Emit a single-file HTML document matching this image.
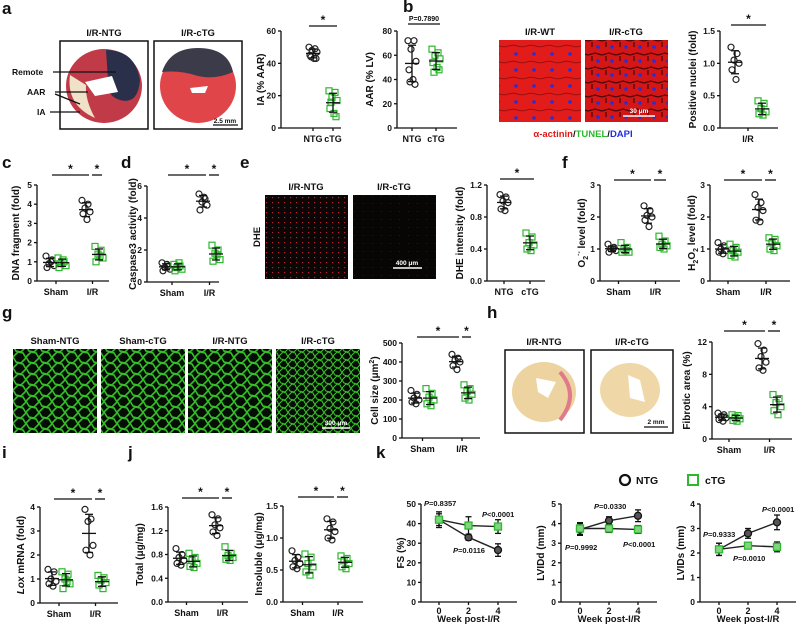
<!DOCTYPE html>
<html><head><meta charset="utf-8"><style>
html,body{margin:0;padding:0;background:#fff;}
svg{display:block;font-family:"Liberation Sans",Arial,sans-serif;font-weight:bold;}
</style></head><body>
<svg id="fig" width="798" height="626" viewBox="0 0 798 626" xmlns="http://www.w3.org/2000/svg">
<defs>
<pattern id="mesh1" width="13" height="11" patternUnits="userSpaceOnUse"><path d="M0 5 L5 0 L10 1 L13 6 L8 11 L3 10 Z M5 0 L5 -1 M8 11 L8 12" fill="none" stroke="#35c02a" stroke-width="1.6"/><path d="M0 5 L-1 5 M13 6 L14 6" stroke="#35c02a" stroke-width="1.6"/></pattern>
<pattern id="mesh2" width="9" height="8" patternUnits="userSpaceOnUse"><path d="M0 4 L4 0 L7 1 L9 5 L6 8 L2 7 Z" fill="none" stroke="#38c02a" stroke-width="1.1"/></pattern>
<pattern id="dhe1" width="6" height="5" patternUnits="userSpaceOnUse"><rect x="2" y="2" width="1.2" height="1.2" fill="#b8202a"/></pattern>
<pattern id="dhe2" width="9" height="8" patternUnits="userSpaceOnUse"><rect x="3" y="3" width="1" height="1" fill="#4a0d12"/></pattern>
<pattern id="red1" width="18" height="16" patternUnits="userSpaceOnUse"><rect width="18" height="16" fill="#e21b1b"/><path d="M0 15 L9 13 L18 15" stroke="#8a0a0a" stroke-width="0.8" fill="none"/><circle cx="12" cy="6" r="1.8" fill="#2331d8"/></pattern>
<pattern id="red2" width="14" height="14" patternUnits="userSpaceOnUse"><rect width="14" height="14" fill="#d41616"/><path d="M0 13 L7 11 L14 13 M4 0 L4 5" stroke="#4a0505" stroke-width="1.2" fill="none"/><circle cx="10" cy="5" r="1.8" fill="#2331d8"/></pattern>
</defs>
</svg>
<script>
// ---------- data ----------
const groupCats2 = ['NTG', 'cTG'];
const groupCats4 = ['Sham', 'I/R'];
const iaNTG = [50, 49, 48, 47, 45, 43, 43, 44];
const iaCTG = [23, 22, 19, 17, 12, 9, 7, 16];
const iaTicks = [0, 20, 40, 60];
const aarNTG = [72, 72, 65, 55, 48, 40, 36, 38];
const aarCTG = [65, 62, 60, 57, 54, 50, 48, 46];
const aarTicks = [0, 20, 40, 60, 80];
const nucNTG = [1.25, 1.15, 1.05, 1.0, 0.9, 0.75];
const nucCTG = [0.42, 0.38, 0.3, 0.25, 0.22, 0.2];
const nucTicks = [0, 0.5, 1.0, 1.5];
const nucTickLabels = ['0.0', '0.5', '1.0', '1.5'];
const dnaShamNTG = [1.3, 1.1, 0.9, 0.8, 0.7, 1.0];
const dnaShamCTG = [1.2, 1.0, 0.9, 0.8, 0.7, 1.1];
const dnaIRNTG = [4.2, 4.0, 3.8, 3.6, 3.5, 3.2];
const dnaIRCTG = [1.8, 1.6, 1.4, 1.2, 1.0, 1.3];
const dnaTicks = [0, 1, 2, 3, 4, 5];
const casShamNTG = [1.2, 1.0, 0.9, 0.8, 0.7, 1.1];
const casShamCTG = [1.1, 1.0, 0.9, 0.8, 0.7, 1.2];
const casIRNTG = [5.5, 5.2, 5.0, 4.8, 4.5, 5.3];
const casIRCTG = [2.3, 2.0, 1.8, 1.4, 1.3, 1.7];
const casTicks = [0, 2, 4, 6];
const dheNTG = [1.08, 1.05, 1.0, 0.98, 0.9, 0.88];
const dheCTG = [0.6, 0.55, 0.48, 0.45, 0.4, 0.38];
const dheTicks = [0, 0.4, 0.8, 1.2];
const dheTickLabels = ['0.0', '0.4', '0.8', '1.2'];
const o2ShamNTG = [1.15, 1.05, 1.0, 0.95, 0.9, 1.0];
const o2ShamCTG = [1.2, 1.05, 1.0, 0.9, 0.9, 0.95];
const o2IRNTG = [2.35, 2.2, 2.05, 2.0, 1.9, 1.7];
const o2IRCTG = [1.4, 1.25, 1.15, 1.1, 1.05, 1.0];
const h2ShamNTG = [1.2, 1.1, 1.0, 0.95, 0.9, 0.85];
const h2ShamCTG = [1.15, 1.05, 0.95, 0.9, 0.8, 0.75];
const h2IRNTG = [2.7, 2.45, 2.3, 2.2, 1.9, 1.85];
const h2IRCTG = [1.35, 1.3, 1.2, 1.1, 1.0, 0.95];
const foldTicks3 = [0, 1, 2, 3];
const cellShamNTG = [250, 230, 210, 200, 190, 180];
const cellShamCTG = [260, 235, 215, 200, 180, 170];
const cellIRNTG = [440, 420, 410, 400, 380, 360];
const cellIRCTG = [280, 260, 245, 230, 210, 200];
const cellTicks = [0, 100, 200, 300, 400, 500];
const fibShamNTG = [3.2, 3.0, 2.8, 2.6, 2.4, 2.2];
const fibShamCTG = [3.0, 2.9, 2.7, 2.5, 2.3, 2.2];
const fibIRNTG = [11.8, 11.0, 10.2, 9.5, 8.8, 8.5];
const fibIRCTG = [5.5, 5.0, 4.5, 4.0, 3.5, 3.0];
const fibTicks = [0, 4, 8, 12];
const loxShamNTG = [1.4, 1.3, 1.0, 0.9, 0.8, 0.7];
const loxShamCTG = [1.3, 1.2, 1.0, 0.8, 0.6, 0.9];
const loxIRNTG = [3.9, 3.5, 3.4, 2.4, 2.2, 2.0];
const loxIRCTG = [1.15, 1.05, 0.95, 0.85, 0.75, 0.6];
const loxTicks = [0, 1, 2, 3, 4];
const totShamNTG = [0.9, 0.8, 0.75, 0.7, 0.65, 0.62];
const totShamCTG = [0.82, 0.75, 0.7, 0.65, 0.6, 0.58];
const totIRNTG = [1.47, 1.4, 1.3, 1.25, 1.18, 1.12];
const totIRCTG = [0.93, 0.82, 0.78, 0.75, 0.72, 0.7];
const totTicks = [0, 0.4, 0.8, 1.2, 1.6];
const totTickLabels = ['0.0', '0.4', '0.8', '1.2', '1.6'];
const insShamNTG = [0.8, 0.7, 0.65, 0.6, 0.55, 0.52];
const insShamCTG = [0.75, 0.7, 0.6, 0.55, 0.47, 0.42];
const insIRNTG = [1.3, 1.25, 1.15, 1.1, 1.0, 0.97];
const insIRCTG = [0.72, 0.68, 0.65, 0.6, 0.55, 0.52];
const insTicks = [0, 0.5, 1.0, 1.5];
const insTickLabels = ['0.0', '0.5', '1.0', '1.5'];
const weeks = [0, 2, 4];
const fsNTG = [42, 33, 26.5];
const fsNTGsd = [4, 1.5, 3.2];
const fsCTG = [42, 39, 38.5];
const fsCTGsd = [3, 4.5, 3.5];
const fsTicks = [0, 10, 20, 30, 40, 50];
const lvddNTG = [3.7, 4.15, 4.4];
const lvddNTGsd = [0.3, 0.2, 0.3];
const lvddCTG = [3.75, 3.75, 3.7];
const lvddCTGsd = [0.3, 0.2, 0.2];
const lvddTicks = [0, 1, 2, 3, 4, 5];
const lvdsNTG = [2.15, 2.8, 3.25];
const lvdsNTGsd = [0.25, 0.2, 0.3];
const lvdsCTG = [2.15, 2.3, 2.25];
const lvdsCTGsd = [0.25, 0.1, 0.2];
const lvdsTicks = [0, 1, 2, 3, 4];

// ---------- helpers ----------
const NS = 'http://www.w3.org/2000/svg';
const svg = document.getElementById('fig');
const GREEN = '#2db82d';
function mk(tag, parent) { const e = document.createElementNS(NS, tag); (parent || svg).appendChild(e); return e; }
function txt(x, y, s, size, anchor, parent, color) {
  const t = mk('text', parent);
  t.setAttribute('x', x); t.setAttribute('y', y);
  t.setAttribute('font-size', size); t.setAttribute('text-anchor', anchor || 'middle');
  t.setAttribute('fill', color || '#111');
  t.textContent = s; return t;
}
function line(x1, y1, x2, y2, parent, color, w) {
  const l = mk('line', parent);
  l.setAttribute('x1', x1); l.setAttribute('y1', y1); l.setAttribute('x2', x2); l.setAttribute('y2', y2);
  l.setAttribute('stroke', color || '#111'); l.setAttribute('stroke-width', w || 1.3);
  return l;
}
function mean(a) { return a.reduce((s, v) => s + v, 0) / a.length; }
function sd(a) { const m = mean(a); return Math.sqrt(a.reduce((s, v) => s + (v - m) * (v - m), 0) / (a.length - 1)); }
const jit = [-4, 2, -1, 4, -3, 1, 3, -2];

function yAxis(g, ax, y0, yTop, max, ticks, labels, title, titleX) {
  const sy = v => y0 - v / max * (y0 - yTop);
  line(ax, y0, ax, yTop, g);
  ticks.forEach((t, i) => {
    line(ax - 3, sy(t), ax, sy(t), g);
    const lab = txt(ax - 5, sy(t) + 3, labels ? labels[i] : String(t), 8.5, 'end', g);
    
    
  });
  const tt = txt(0, 0, '', 10, 'middle', g);
  tt.setAttribute('transform', `translate(${titleX},${(y0 + yTop) / 2}) rotate(-90)`);
  tt.innerHTML = title;
  
  
  return sy;
}
function drawGroup(g, x, vals, sy, green) {
  vals.forEach((v, i) => {
    let m;
    if (green) { m = mk('rect', g); m.setAttribute('x', x + jit[i] - 3); m.setAttribute('y', sy(v) - 3); m.setAttribute('width', 6); m.setAttribute('height', 6); }
    else { m = mk('circle', g); m.setAttribute('cx', x + jit[i]); m.setAttribute('cy', sy(v)); m.setAttribute('r', 3); }
    m.setAttribute('fill', 'none'); m.setAttribute('stroke', green ? GREEN : '#222'); m.setAttribute('stroke-width', 1.2);
    
    
  });
  const mu = mean(vals), s = sd(vals);
  line(x - 7, sy(mu), x + 7, sy(mu), g);
  line(x, sy(mu - s), x, sy(mu + s), g);
  line(x - 4, sy(mu - s), x + 4, sy(mu - s), g);
  line(x - 4, sy(mu + s), x + 4, sy(mu + s), g);
}
function star(g, x1, x2, y, label) {
  line(x1, y, x2, y, g);
  txt((x1 + x2) / 2, y - (label ? 3 : 2), label || '*', label ? 7 : 12, 'middle', g);
}
function panel2(name, cfg) {
  const g = mk('g');  
  const sy = yAxis(g, cfg.ax, cfg.y0, cfg.yTop, cfg.max, cfg.ticks, cfg.labels, cfg.title, cfg.titleX);
  line(cfg.ax, cfg.y0, cfg.ax + cfg.w, cfg.y0, g);
  drawGroup(g, cfg.xs[0], cfg.a, sy, false);
  drawGroup(g, cfg.xs[1], cfg.b, sy, true);
  if (cfg.cats) cfg.cats.forEach((c, i) => { line(cfg.xs[i], cfg.y0, cfg.xs[i], cfg.y0 + 3, g); txt(cfg.xs[i], cfg.y0 + 14, c, 9, 'middle', g); });
  if (cfg.single) { line(cfg.single[0], cfg.y0, cfg.single[0], cfg.y0 + 3, g); txt(cfg.single[0], cfg.y0 + 14, cfg.single[1], 9, 'middle', g); }
  star(g, cfg.xs[0] - 4, cfg.xs[1] + 4, cfg.starY, cfg.starLabel);
}
function panel4(name, cfg) {
  const g = mk('g');  
  const sy = yAxis(g, cfg.ax, cfg.y0, cfg.yTop, cfg.max, cfg.ticks, cfg.labels, cfg.title, cfg.titleX);
  line(cfg.ax, cfg.y0, cfg.ax + cfg.w, cfg.y0, g);
  const xs = cfg.xs;
  drawGroup(g, xs[0], cfg.d[0], sy, false);
  drawGroup(g, xs[1], cfg.d[1], sy, true);
  drawGroup(g, xs[2], cfg.d[2], sy, false);
  drawGroup(g, xs[3], cfg.d[3], sy, true);
  groupCats4.forEach((c, i) => { const cx = (xs[2 * i] + xs[2 * i + 1]) / 2; line(cx, cfg.y0, cx, cfg.y0 + 3, g); txt(cx, cfg.y0 + 14, c, 9, 'middle', g); });
  star(g, xs[0] + 2, xs[2] + 3, cfg.starY);
  star(g, xs[2] + 6, xs[3] + 3, cfg.starY);
}
function linePanel(name, cfg) {
  const g = mk('g');  
  const sy = yAxis(g, cfg.ax, cfg.y0, cfg.yTop, cfg.max, cfg.ticks, null, cfg.title, cfg.titleX);
  const sx = w => cfg.x0 + w / 4 * (cfg.x4 - cfg.x0);
  line(cfg.ax, cfg.y0, cfg.ax + 96, cfg.y0, g);
  weeks.forEach(w => { line(sx(w), cfg.y0, sx(w), cfg.y0 + 3, g); txt(sx(w), cfg.y0 + 12, String(w), 9, 'middle', g); });
  txt(sx(2), cfg.y0 + 20, 'Week post-I/R', 9.5, 'middle', g);
  [[cfg.n, cfg.nsd, false], [cfg.c, cfg.csd, true]].forEach(([vals, sds, green]) => {
    const pl = mk('polyline', g);
    pl.setAttribute('points', weeks.map((w, i) => sx(w) + ',' + sy(vals[i])).join(' '));
    pl.setAttribute('fill', 'none'); pl.setAttribute('stroke', '#222'); pl.setAttribute('stroke-width', 1.4);
    
    
    weeks.forEach((w, i) => {
      const x = sx(w);
      line(x, sy(vals[i] - sds[i]), x, sy(vals[i] + sds[i]), g);
      line(x - 3, sy(vals[i] - sds[i]), x + 3, sy(vals[i] - sds[i]), g);
      line(x - 3, sy(vals[i] + sds[i]), x + 3, sy(vals[i] + sds[i]), g);
      let m;
      if (green) { m = mk('rect', g); m.setAttribute('x', x - 3.5); m.setAttribute('y', sy(vals[i]) - 3.5); m.setAttribute('width', 7); m.setAttribute('height', 7); m.setAttribute('fill', '#7fd47f'); m.setAttribute('stroke', GREEN); }
      else { m = mk('circle', g); m.setAttribute('cx', x); m.setAttribute('cy', sy(vals[i])); m.setAttribute('r', 3.5); m.setAttribute('fill', '#555'); m.setAttribute('stroke', '#111'); }
      m.setAttribute('stroke-width', 1.3);
      
      
    });
  });
  cfg.p.forEach(p => { const t = txt(p[0], p[1], '', 7.5, 'start', g); t.innerHTML = '<tspan font-style="italic">P</tspan>' + p[2]; });
}
function letter(x, y, s) {
  const t = txt(x, y, s, 17, 'start');
  
  
}
function box(x, y, w, h, fill, name, stroke, sw) {
  const r = mk('rect'); r.setAttribute('x', x); r.setAttribute('y', y); r.setAttribute('width', w); r.setAttribute('height', h);
  r.setAttribute('fill', fill); r.setAttribute('stroke', stroke || 'none'); r.setAttribute('stroke-width', sw || 0);
  
  
  return r;
}

// ---------- panel letters ----------
[[2,14,'a'],[403,12,'b'],[2,168,'c'],[121,168,'d'],[240,168,'e'],[562,168,'f'],[2,318,'g'],[487,318,'h'],[2,458,'i'],[128,458,'j'],[376,458,'k']].forEach(a => letter(a[0], a[1], a[2]));

// ---------- panel a images ----------
box(60, 41, 88, 88, '#fff', 'heart-image-ntg', '#111', 1.5);
box(154, 41, 88, 88, '#fff', 'heart-image-ctg', '#111', 1.5);
(function(){
  let e = mk('ellipse'); e.setAttribute('cx',104); e.setAttribute('cy',86); e.setAttribute('rx',38); e.setAttribute('ry',37); e.setAttribute('fill','#c03a48');
  e = mk('path'); e.setAttribute('d','M106 50 Q135 50 140 80 Q138 105 120 100 Q105 95 108 80 Z'); e.setAttribute('fill','#2a2f4a');
  e = mk('path'); e.setAttribute('d','M70 75 Q66 105 95 118 Q85 100 86 85 Z'); e.setAttribute('fill','#efe2c8');
  e = mk('path'); e.setAttribute('d','M85 82 L112 76 L118 92 L95 96 Z'); e.setAttribute('fill','#fff');
  e = mk('ellipse'); e.setAttribute('cx',198); e.setAttribute('cy',86); e.setAttribute('rx',38); e.setAttribute('ry',37); e.setAttribute('fill','#e0454a');
  e = mk('path'); e.setAttribute('d','M162 72 Q170 48 198 48 Q228 48 233 72 Q215 80 198 76 Q180 70 162 72 Z'); e.setAttribute('fill','#3b3b4a');
  e = mk('path'); e.setAttribute('d','M190 88 L208 86 L205 93 L192 93 Z'); e.setAttribute('fill','#fff');
})();
txt(104, 36, 'I/R-NTG', 9.5); txt(198, 36, 'I/R-cTG', 9.5);
txt(12, 75, 'Remote', 8.5, 'start'); line(53, 72, 116, 72);
txt(27, 95, 'AAR', 8.5, 'start'); line(55, 92, 88, 92); line(55, 94, 80, 104);
txt(37, 115, 'IA', 8.5, 'start'); line(50, 112, 80, 112);
line(213, 125, 238, 125); txt(225, 123, '2.5 mm', 6.5);

panel2('ia-chart', {ax:281, y0:128, yTop:31, max:60, ticks:iaTicks, title:'IA (% AAR)', titleX:264, w:60, xs:[313,333], a:iaNTG, b:iaCTG, cats:groupCats2, starY:26});
panel2('aar-chart', {ax:397, y0:128, yTop:31, max:80, ticks:aarTicks, title:'AAR (% LV)', titleX:373, w:60, xs:[412,436], a:aarNTG, b:aarCTG, cats:groupCats2, starY:24, starLabel:'P=0.7890'});

// ---------- panel b ----------
box(499, 40, 82, 82, 'url(#red1)', 'tunel-image-wt');
box(585, 40, 83, 82, 'url(#red2)', 'tunel-image-ctg');
line(623, 116, 655, 116, null, '#fff', 1.5); txt(639, 113, '30 μm', 6.5, 'middle', null, '#fff');
txt(540, 35, 'I/R-WT', 9.5); txt(626, 35, 'I/R-cTG', 9.5);
(function(){ const t = txt(583, 137, '', 9.5); t.innerHTML = '<tspan fill="#e01818">α-actinin</tspan>/<tspan fill="#2db82d">TUNEL</tspan>/<tspan fill="#1f2fe0">DAPI</tspan>'; })();
panel2('positive-nuclei-chart', {ax:720, y0:128, yTop:31, max:1.5, ticks:nucTicks, labels:nucTickLabels, title:'Positive nuclei (fold)', titleX:696, w:58, xs:[735,762], a:nucNTG, b:nucCTG, single:[748,'I/R'], starY:25});

// ---------- row c-f ----------
panel4('dna-fragment-chart', {ax:37, y0:281, yTop:185, max:5, ticks:dnaTicks, title:'DNA fragment (fold)', titleX:19, w:72, xs:[50,62,86,99], d:[dnaShamNTG,dnaShamCTG,dnaIRNTG,dnaIRCTG], starY:175});
panel4('caspase3-chart', {ax:147, y0:282, yTop:186, max:6, ticks:casTicks, title:'Caspase3 activity (fold)', titleX:136, w:72, xs:[166,178,203,216], d:[casShamNTG,casShamCTG,casIRNTG,casIRCTG], starY:175});
box(265, 195, 83, 84, '#0d0606', 'dhe-image-ntg');
box(353, 195, 83, 84, '#080505', 'dhe-image-ctg');
box(265, 195, 83, 84, 'url(#dhe1)', 'dhe-signal-ntg');
box(353, 195, 83, 84, 'url(#dhe2)', 'dhe-signal-ctg');
line(393, 268, 422, 268, null, '#fff', 1.5); txt(407, 265, '400 μm', 6.5, 'middle', null, '#fff');
txt(306, 190, 'I/R-NTG', 9.5); txt(394, 190, 'I/R-cTG', 9.5);
(function(){ const t = txt(0,0,'DHE',9.5); t.setAttribute('transform','translate(260,237) rotate(-90)'); })();
panel2('dhe-intensity-chart', {ax:487, y0:281, yTop:185, max:1.2, ticks:dheTicks, labels:dheTickLabels, title:'DHE intensity (fold)', titleX:463, w:58, xs:[504,530], a:dheNTG, b:dheCTG, cats:groupCats2, starY:179});
panel4('o2-level-chart', {ax:600, y0:281, yTop:185, max:3, ticks:foldTicks3, title:'O<tspan font-size="7" dy="3">2</tspan><tspan font-size="7" dy="-7">·-</tspan><tspan dy="4"> level (fold)</tspan>', titleX:585, w:80, xs:[612,625,648,663], d:[o2ShamNTG,o2ShamCTG,o2IRNTG,o2IRCTG], starY:180});
panel4('h2o2-level-chart', {ax:710, y0:281, yTop:185, max:3, ticks:foldTicks3, title:'H<tspan font-size="7" dy="3">2</tspan><tspan dy="-3">O</tspan><tspan font-size="7" dy="3">2</tspan><tspan dy="-3"> level (fold)</tspan>', titleX:695, w:80, xs:[722,734,759,773], d:[h2ShamNTG,h2ShamCTG,h2IRNTG,h2IRCTG], starY:180});

// ---------- row g-h ----------
[[13,'Sham-NTG','url(#mesh1)'],[101,'Sham-cTG','url(#mesh1)'],[188,'I/R-NTG','url(#mesh1)'],[276,'I/R-cTG','url(#mesh2)']].forEach((a, i) => {
  box(a[0], 349, 84, 84, '#050d04', 'wga-image-bg-' + i);
  box(a[0], 349, 84, 84, a[2], 'wga-image-' + i);
  txt(a[0] + 42, 344, a[1], 9.5);
});
line(322, 428, 350, 428, null, '#fff', 1.5); txt(336, 425, '300 μm', 6.5, 'middle', null, '#fff');
panel4('cell-size-chart', {ax:402, y0:438, yTop:343, max:500, ticks:cellTicks, title:'Cell size (μm<tspan font-size="7" dy="-4">2</tspan><tspan dy="4">)</tspan>', titleX:378, w:78, xs:[415,430,456,468], d:[cellShamNTG,cellShamCTG,cellIRNTG,cellIRCTG], starY:337});
box(505, 350, 79, 83, '#fff', 'sirius-image-ntg', '#111', 1.5);
box(591, 350, 82, 83, '#fff', 'sirius-image-ctg', '#111', 1.5);
(function(){
  let e = mk('ellipse'); e.setAttribute('cx',544); e.setAttribute('cy',392); e.setAttribute('rx',32); e.setAttribute('ry',30); e.setAttribute('fill','#ecd3a0');
  e = mk('path'); e.setAttribute('d','M560 372 Q580 395 560 420'); e.setAttribute('stroke','#e07a8a'); e.setAttribute('stroke-width',4); e.setAttribute('fill','none');
  e = mk('path'); e.setAttribute('d','M536 378 L556 382 L548 398 L538 392 Z'); e.setAttribute('fill','#fff');
  e = mk('ellipse'); e.setAttribute('cx',630); e.setAttribute('cy',390); e.setAttribute('rx',30); e.setAttribute('ry',27); e.setAttribute('fill','#efd7a8');
  e = mk('path'); e.setAttribute('d','M628 375 L640 380 L645 402 L630 398 Z'); e.setAttribute('fill','#fff');
})();
line(644, 427, 668, 427); txt(656, 424, '2 mm', 6.5);
txt(544, 345, 'I/R-NTG', 9.5); txt(632, 345, 'I/R-cTG', 9.5);
panel4('fibrotic-area-chart', {ax:712, y0:439, yTop:342, max:12, ticks:fibTicks, title:'Fibrotic area (%)', titleX:690, w:80, xs:[722,736,762,777], d:[fibShamNTG,fibShamCTG,fibIRNTG,fibIRCTG], starY:331});

// ---------- row i-k ----------
panel4('lox-mrna-chart', {ax:40, y0:603, yTop:507, max:4, ticks:loxTicks, title:'<tspan font-style="italic">Lox</tspan> mRNA (fold)', titleX:24, w:78, xs:[52,66,89,102], d:[loxShamNTG,loxShamCTG,loxIRNTG,loxIRCTG], starY:499});
panel4('total-collagen-chart', {ax:168, y0:602, yTop:507, max:1.6, ticks:totTicks, labels:totTickLabels, title:'Total (μg/mg)', titleX:143, w:80, xs:[180,193,216,229], d:[totShamNTG,totShamCTG,totIRNTG,totIRCTG], starY:498});
panel4('insoluble-collagen-chart', {ax:283, y0:602, yTop:506, max:1.5, ticks:insTicks, labels:insTickLabels, title:'Insoluble (μg/mg)', titleX:262, w:80, xs:[296,309,331,345], d:[insShamNTG,insShamCTG,insIRNTG,insIRCTG], starY:497});

// legend
(function(){
  const g = mk('g');  
  const c = mk('circle', g); c.setAttribute('cx',625); c.setAttribute('cy',480); c.setAttribute('r',5); c.setAttribute('fill','none'); c.setAttribute('stroke','#111'); c.setAttribute('stroke-width',2.2);
  txt(636, 484, 'NTG', 10.5, 'start', g);
  const r = mk('rect', g); r.setAttribute('x',688); r.setAttribute('y',475); r.setAttribute('width',10); r.setAttribute('height',10); r.setAttribute('fill','none'); r.setAttribute('stroke',GREEN); r.setAttribute('stroke-width',2);
  txt(705, 484, 'cTG', 10.5, 'start', g);
})();
linePanel('fs-chart', {ax:421, y0:602, yTop:504, max:50, ticks:fsTicks, title:'FS (%)', titleX:404, x0:439, x4:498, n:fsNTG, nsd:fsNTGsd, c:fsCTG, csd:fsCTGsd,
  p:[[424,506,'=0.8357'],[482,517,'<0.0001'],[453,553,'=0.0116']]});
linePanel('lvidd-chart', {ax:561, y0:602, yTop:504, max:5, ticks:lvddTicks, title:'LVIDd (mm)', titleX:544, x0:580, x4:638, n:lvddNTG, nsd:lvddNTGsd, c:lvddCTG, csd:lvddCTGsd,
  p:[[594,509,'=0.0330'],[565,550,'=0.9992'],[623,547,'<0.0001']]});
linePanel('lvids-chart', {ax:700, y0:602, yTop:504, max:4, ticks:lvdsTicks, title:'LVIDs (mm)', titleX:684, x0:719, x4:777, n:lvdsNTG, nsd:lvdsNTGsd, c:lvdsCTG, csd:lvdsCTGsd,
  p:[[703,537,'=0.9333'],[762,512,'<0.0001'],[733,561,'=0.0010']]});
</script>
</body></html>
